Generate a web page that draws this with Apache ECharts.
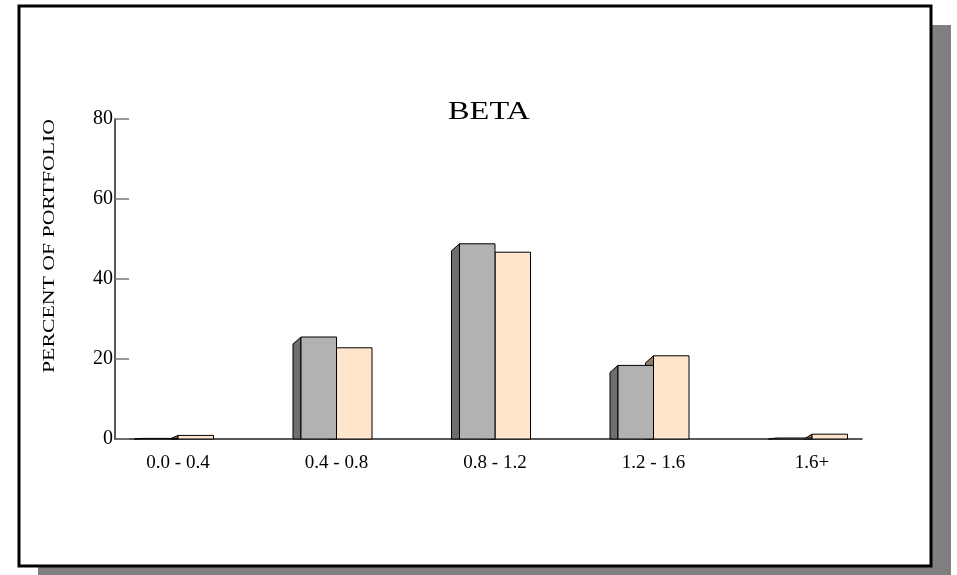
<!DOCTYPE html>
<html>
<head>
  <meta charset="utf-8">
  <script src="https://cdn.jsdelivr.net/npm/echarts@6/dist/echarts.min.js"></script>
</head>
<body style="margin: 0; background: #fff;">
  <div id="main" style="width: 957px; height: 575px;"></div>
  <script>
    // beta buckets and two portfolio series (percent)
    var categories = ['0.0 - 0.4', '0.4 - 0.8', '0.8 - 1.2', '1.2 - 1.6', '1.6+'];
    var grayValues = [0.15, 25.5, 48.8, 18.4, 0.25];
    var peachValues = [0.9, 22.8, 46.7, 20.8, 1.2];
    var yTicks = [0, 20, 40, 60, 80];

    var chart = echarts.init(document.getElementById('main'));
    var serif = '"Liberation Serif", "DejaVu Serif", serif';

    // draws a bar with a darker slanted side face on its left
    function bar3d(side, fill, sideFill) {
      return function (params, api) {
        var i = api.value(0);
        var top = api.coord([i, api.value(1)]);
        var base = api.coord([i, 0]);
        var w = api.size([1, 0])[0] * 0.224;
        var x0 = side < 0 ? top[0] - w : top[0];
        var yT = top[1], yB = base[1];
        var depth = 8, drop = 7;
        var sideTop = Math.min(yT + drop, yB);
        return {
          type: 'group',
          children: [
            {
              type: 'polygon',
              shape: { points: [[x0, yT], [x0 - depth, sideTop], [x0 - depth, yB], [x0, yB]] },
              style: { fill: sideFill, stroke: '#000', lineWidth: 1 }
            },
            {
              type: 'rect',
              shape: { x: x0, y: yT, width: w, height: yB - yT },
              style: { fill: fill, stroke: '#000', lineWidth: 1 }
            }
          ]
        };
      };
    }

    var option = {
      animation: false,
      backgroundColor: '#fff',
      graphic: [
        { type: 'rect', z: -10, shape: { x: 38, y: 25, width: 913, height: 560 }, style: { fill: '#808080' } },
        { type: 'rect', z: -9, shape: { x: 19, y: 6, width: 912, height: 560 }, style: { fill: '#fff', stroke: '#000', lineWidth: 3 } },
        {
          type: 'text', x: 489, y: 112, scaleX: 1.27,
          style: { text: 'BETA', font: '25.5px ' + serif, fill: '#000', align: 'center', verticalAlign: 'middle' }
        },
        {
          type: 'text', x: 50, y: 246, rotation: Math.PI / 2, scaleX: 1.32,
          style: { text: 'PERCENT OF PORTFOLIO', font: '16.5px ' + serif, fill: '#000', align: 'center', verticalAlign: 'middle' }
        }
      ],
      grid: [
        { left: 115, right: 95, top: 119, bottom: 136 },
        { left: 98.75, right: 65.75, top: 119, bottom: 136 }
      ],
      xAxis: [
        {
          gridIndex: 0, type: 'value', min: 0, max: 1,
          axisLine: { show: true, lineStyle: { color: '#222', width: 1.5 } },
          axisTick: { show: false }, axisLabel: { show: false }, splitLine: { show: false }
        },
        {
          gridIndex: 1, type: 'category', data: categories,
          axisLine: { show: false }, axisTick: { show: false }, splitLine: { show: false },
          axisLabel: { color: '#000', fontFamily: serif, fontSize: 19, margin: 15 }
        }
      ],
      yAxis: [
        {
          gridIndex: 0, type: 'value', min: 0, max: 80, interval: 20,
          axisLine: { show: true, lineStyle: { color: '#222', width: 1.5 } },
          axisTick: { show: true, inside: true, length: 14, lineStyle: { color: '#777', width: 1.5 } },
          axisLabel: {
            color: '#000', fontFamily: serif, fontSize: 20, margin: 2,
            formatter: function (v) { return yTicks.indexOf(v) >= 0 ? String(v) : ''; }
          },
          splitLine: { show: false }
        },
        { gridIndex: 1, type: 'value', min: 0, max: 80, show: false }
      ],
      series: [
        {
          type: 'custom', xAxisIndex: 1, yAxisIndex: 1,
          renderItem: bar3d(1, '#FFE5CC', '#8A7B6E'),
          data: peachValues.map(function (v, i) { return [i, v]; })
        },
        {
          type: 'custom', xAxisIndex: 1, yAxisIndex: 1,
          renderItem: bar3d(-1, '#B2B2B2', '#6E6E6E'),
          data: grayValues.map(function (v, i) { return [i, v]; })
        }
      ]
    };

    chart.setOption(option);
  </script>
</body>
</html>
